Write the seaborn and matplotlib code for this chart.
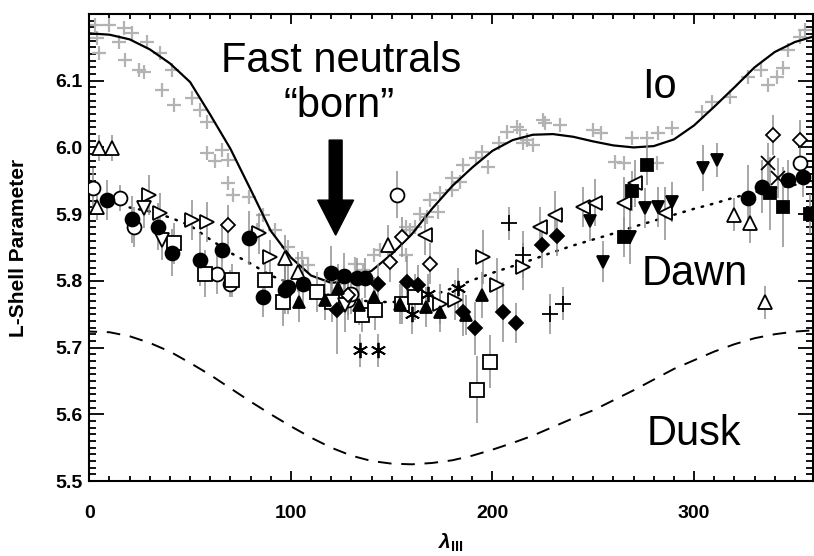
import matplotlib
matplotlib.use('Agg')
import matplotlib.pyplot as plt
import seaborn as sns
from matplotlib.ticker import MultipleLocator, FixedLocator

# ---- model curves (lambda_III every 10 deg) ----
lam_grid = list(range(0, 361, 10))
io_L = [6.171, 6.169, 6.162, 6.147, 6.126, 6.098, 6.049, 5.998, 5.937, 5.875,
        5.835, 5.808, 5.797, 5.800, 5.815, 5.840, 5.870, 5.908, 5.942, 5.970,
        5.995, 6.011, 6.019, 6.020, 6.016, 6.009, 6.003, 6.000, 6.002, 6.012,
        6.033, 6.061, 6.090, 6.120, 6.143, 6.158, 6.167]
dusk_L = [5.724, 5.723, 5.717, 5.707, 5.694, 5.677, 5.659, 5.639, 5.619, 5.600,
          5.582, 5.565, 5.550, 5.538, 5.530, 5.526, 5.525, 5.527, 5.531, 5.538,
          5.547, 5.557, 5.568, 5.581, 5.594, 5.606, 5.621, 5.636, 5.652, 5.668,
          5.681, 5.694, 5.705, 5.714, 5.720, 5.724, 5.726]
dawn_lam = list(range(20, 361, 10))
dawn_L = [5.910, 5.904, 5.895, 5.883, 5.862, 5.842, 5.826, 5.808, 5.796, 5.786,
          5.778, 5.772, 5.769, 5.768, 5.771, 5.778, 5.789, 5.801, 5.812, 5.822,
          5.832, 5.843, 5.853, 5.862, 5.871, 5.881, 5.890, 5.899, 5.908, 5.916,
          5.925, 5.933, 5.939, 5.944, 5.947]

# ---- Io footprint points (grey crosses) ----
io_pts_lam = [3, 9.6, 17, 21, 3.8, 14.5, 28.6, 4.6, 17.8, 35.2, 24.5, 27, 41, 36, 41.8,
              51, 55, 58.3, 58.3, 65.8, 62.5, 69, 69, 71.5, 79, 83, 86, 92, 98.5, 105.6,
              108.6, 97, 125, 132, 136, 141, 144, 157, 157, 159, 161.6, 164, 167.5, 169,
              174, 173, 180, 180, 184, 185.5, 192, 198, 195, 203, 207, 212, 213.7, 215,
              217, 220, 225, 226, 233.5, 250, 254, 261, 265, 269, 276.6, 281.6, 282,
              289, 304, 309, 318, 326.7, 333, 336.6, 341, 344, 346.6, 352.5, 355]
io_pts_L = [6.184, 6.184, 6.179, 6.171, 6.164, 6.158, 6.158, 6.141, 6.131, 6.141, 6.116,
            6.113, 6.116, 6.086, 6.064, 6.074, 6.056, 6.038, 5.991, 5.996, 5.979, 5.981,
            5.946, 5.929, 5.926, 5.876, 5.898, 5.876, 5.851, 5.834, 5.824, 5.824, 5.805,
            5.826, 5.816, 5.839, 5.846, 5.880, 5.839, 5.876, 5.880, 5.900, 5.895, 5.921,
            5.931, 5.903, 5.936, 5.954, 5.948, 5.974, 5.984, 5.971, 5.993, 6.006, 6.023,
            6.030, 6.026, 6.006, 6.011, 6.003, 6.041, 6.036, 6.033, 6.026, 6.021, 5.978,
            5.976, 6.014, 6.014, 5.976, 6.021, 6.029, 6.053, 6.068, 6.076, 6.106, 6.116,
            6.093, 6.106, 6.119, 6.146, 6.166, 6.176]

# ---- fast neutral observations, one set per symbol ----
fcirc_lam = [8.8, 21, 34, 41, 54.7, 65.8, 79, 86.4, 97, 98.8, 106, 120, 126.4, 133, 137,
             327, 333.5, 346.7, 354]
fcirc_L = [5.921, 5.892, 5.881, 5.842, 5.832, 5.846, 5.864, 5.776, 5.786, 5.791, 5.796,
           5.812, 5.807, 5.805, 5.805, 5.924, 5.941, 5.951, 5.956]
fcirc_err = [0.03, 0.035, 0.035, 0.035, 0.04, 0.04, 0.04, 0.03, 0.035, 0.04, 0.035, 0.04,
             0.035, 0.03, 0.03, 0.05, 0.04, 0.03, 0.03]

ftri_lam = [97, 103.8, 117, 123.6, 134, 141, 154, 167, 174, 187, 194.7]
ftri_L = [5.791, 5.768, 5.771, 5.790, 5.764, 5.776, 5.766, 5.761, 5.753, 5.749, 5.779]
ftri_err = [0.03, 0.03, 0.03, 0.035, 0.03, 0.03, 0.03, 0.03, 0.03, 0.03, 0.035]

fdia_lam = [123, 143, 157.5, 163, 185.6, 191.4, 205, 211.7, 224.7, 231.9]
fdia_L = [5.756, 5.796, 5.798, 5.794, 5.753, 5.729, 5.753, 5.737, 5.854, 5.867]
fdia_err = [0.065, 0.03, 0.04, 0.03, 0.035, 0.04, 0.045, 0.03, 0.035, 0.03]

osq_lam = [41.8, 57.5, 70.7, 87.3, 96.3, 112.9, 120.3, 135.2, 141.8, 155, 161.6, 192.2, 198.8]
osq_L = [5.856, 5.811, 5.801, 5.801, 5.768, 5.783, 5.768, 5.749, 5.756, 5.766, 5.776,
         5.637, 5.679]
osq_err = [0.03, 0.035, 0.025, 0.03, 0.035, 0.03, 0.03, 0.025, 0.03, 0.03, 0.035, 0.05, 0.04]

ocirc_lam = [2, 15.4, 22, 63.3, 70, 128.5, 130, 152.5, 352.5]
ocirc_L = [5.939, 5.924, 5.881, 5.811, 5.796, 5.771, 5.781, 5.929, 5.976]
ocirc_err = [0.03, 0.02, 0.03, 0.03, 0.02, 0.03, 0.03, 0.035, 0.03]

rtri_lam = [29.4, 35.2, 51, 58.3, 84, 89.7, 174, 181.5, 195.5, 202, 215.3]
rtri_L = [5.929, 5.901, 5.891, 5.888, 5.871, 5.836, 5.766, 5.771, 5.836, 5.794, 5.821]
rtri_err = [0.03, 0.03, 0.03, 0.03, 0.03, 0.025, 0.03, 0.03, 0.04, 0.04, 0.035]

ltri_lam = [166.6, 223.6, 231, 245, 250.9, 265, 270.7, 285.6]
ltri_L = [5.869, 5.881, 5.899, 5.911, 5.917, 5.916, 5.946, 5.901]
ltri_err = [0.03, 0.03, 0.035, 0.03, 0.035, 0.04, 0.035, 0.04]

utri_lam = [4.6, 11.2, 3.8, 97, 103.7, 148.4, 320, 327.7, 335]
utri_L = [5.999, 5.999, 5.911, 5.834, 5.814, 5.854, 5.899, 5.886, 5.768]
utri_err = [0.02, 0.02, 0.02, 0.035, 0.03, 0.03, 0.025, 0.03, 0.025]

dtri_lam = [27, 36, 127]
dtri_L = [5.909, 5.861, 5.764]
dtri_err = [0.03, 0.03, 0.04]

fdtri_lam = [248.4, 255, 268, 275.7, 282.3, 288.9, 304.6, 311.2]
fdtri_L = [5.889, 5.829, 5.866, 5.909, 5.911, 5.918, 5.969, 5.981]
fdtri_err = [0.03, 0.03, 0.04, 0.03, 0.03, 0.03, 0.035, 0.025]

fsq_lam = [265, 269, 276.5, 337.6, 344.2, 357.5]
fsq_L = [5.866, 5.934, 5.974, 5.931, 5.911, 5.900]
fsq_err = [0.03, 0.03, 0.03, 0.055, 0.06, 0.03]

odia_lam = [69, 128.5, 149, 155, 169, 339, 352.5]
odia_L = [5.884, 5.779, 5.829, 5.866, 5.826, 6.019, 6.011]
odia_err = [0.03, 0.03, 0.03, 0.03, 0.03, 0.03, 0.03]

cross_lam = [336.8, 341.7]
cross_L = [5.976, 5.954]
cross_err = [0.03, 0.03]

ast_lam = [134.3, 143.4, 160, 168, 183]
ast_L = [5.696, 5.696, 5.751, 5.781, 5.789]
ast_err = [0.025, 0.025, 0.03, 0.03, 0.03]

plus_lam = [208, 215.3, 228.6, 235]
plus_L = [5.886, 5.839, 5.751, 5.766]
plus_err = [0.025, 0.035, 0.03, 0.025]

y_ticks = [5.5, 5.6, 5.7, 5.8, 5.9, 6.0, 6.1]

sns.set_theme(style='ticks')
plt.rcParams['font.family'] = ['Liberation Sans', 'DejaVu Sans']
plt.rcParams['mathtext.fontset'] = 'custom'
plt.rcParams['mathtext.it'] = 'Liberation Sans:italic:bold'
plt.rcParams['mathtext.rm'] = 'Liberation Sans:bold'
for key in ['text.color', 'axes.labelcolor', 'xtick.color', 'ytick.color', 'axes.edgecolor']:
    plt.rcParams[key] = 'black'

fig = plt.figure(figsize=(8.14, 5.56), dpi=100)
ax = fig.add_axes([89.3 / 814, 1 - 481 / 556, (813 - 89.3) / 814, (481 - 14) / 556])

# grey Io footprint crosses
sns.scatterplot(x=io_pts_lam, y=io_pts_L, ax=ax, marker='+', s=110, color='#b3b3b3',
                linewidth=1.6, zorder=1, legend=False)

# model curves
sns.lineplot(x=lam_grid, y=io_L, ax=ax, color='black', linewidth=1.6, zorder=2,
             estimator=None, sort=False)
sns.lineplot(x=lam_grid, y=dusk_L, ax=ax, color='black', linewidth=1.4, zorder=2,
             estimator=None, sort=False)
sns.lineplot(x=dawn_lam, y=dawn_L, ax=ax, color='black', linewidth=1.8, zorder=2,
             estimator=None, sort=False)
ax.lines[1].set_linestyle((3, (7, 5)))
ax.lines[2].set_linestyle((0, (0.6, 3.2)))
ax.lines[2].set_dash_capstyle('round')


def draw(lam, L, err, marker, ms, filled):
    ax.errorbar(lam, L, yerr=err, fmt='none', ecolor='#8f8f8f', elinewidth=1.1, zorder=3)
    ax.plot(lam, L, ls='none', marker=marker, ms=ms,
            mfc='black' if filled else 'white', mec='black', mew=1.3, zorder=4)


draw(ocirc_lam, ocirc_L, ocirc_err, 'o', 10, False)
draw(osq_lam, osq_L, osq_err, 's', 9.5, False)
draw(rtri_lam, rtri_L, rtri_err, '>', 10, False)
draw(ltri_lam, ltri_L, ltri_err, '<', 10, False)
draw(utri_lam, utri_L, utri_err, '^', 10, False)
draw(dtri_lam, dtri_L, dtri_err, 'v', 10, False)
draw(odia_lam, odia_L, odia_err, 'D', 7.5, False)
draw(fcirc_lam, fcirc_L, fcirc_err, 'o', 10, True)
draw(ftri_lam, ftri_L, ftri_err, '^', 9, True)
draw(fdia_lam, fdia_L, fdia_err, 'D', 7.5, True)
draw(fdtri_lam, fdtri_L, fdtri_err, 'v', 9, True)
draw(fsq_lam, fsq_L, fsq_err, 's', 9, True)
draw(cross_lam, cross_L, cross_err, 'x', 10, True)
draw(ast_lam, ast_L, ast_err, (6, 2, 0), 11, True)
draw(plus_lam, plus_L, plus_err, '+', 11, True)

# annotations
ax.text(124.7, 6.113, 'Fast neutrals', fontsize=30, ha='center', va='baseline', color='black')
ax.text(124.0, 6.045, '\u201cborn\u201d', fontsize=30, ha='center', va='baseline', color='black')
ax.text(282.6, 6.074, 'Io', fontsize=30, ha='center', va='baseline', color='black')
ax.text(300.5, 5.7935, 'Dawn', fontsize=30, ha='center', va='baseline', color='black')
ax.text(299.7, 5.5535, 'Dusk', fontsize=30, ha='center', va='baseline', color='black')
ax.arrow(122.2, 6.011, 0, -0.1425, width=6.4, head_width=17.8, head_length=0.0525,
         length_includes_head=True, color='black', zorder=5)

ax.set_xlim(0, 359)
ax.set_ylim(5.5, 6.2)
ax.xaxis.set_major_locator(MultipleLocator(100))
ax.xaxis.set_minor_locator(MultipleLocator(10))
ax.yaxis.set_major_locator(FixedLocator(y_ticks))
ax.yaxis.set_minor_locator(MultipleLocator(0.01))
ax.yaxis.set_major_formatter(plt.FormatStrFormatter('%.1f'))

ax.tick_params(which='both', direction='in', top=True, right=True, width=1.3,
               color='black', labelcolor='black')
ax.xaxis.set_tick_params(which='major', length=7, pad=17)
ax.xaxis.set_tick_params(which='minor', length=3.5)
ax.yaxis.set_tick_params(which='major', length=11, pad=5)
ax.yaxis.set_tick_params(which='minor', length=5)
for lab in ax.get_xticklabels() + ax.get_yticklabels():
    lab.set_fontweight('bold')
    lab.set_fontsize(14)
for sp in ax.spines.values():
    sp.set_linewidth(1.5)
    sp.set_color('black')

ax.set_ylabel('L-Shell Parameter', fontsize=15, fontweight='bold', color='black')
ax.yaxis.set_label_coords(-0.085, 0.5)
ax.set_xlabel(r'$\lambda_{\rm III}$', fontsize=15, labelpad=7, color='black')

fig.savefig('out.png', dpi=100)
